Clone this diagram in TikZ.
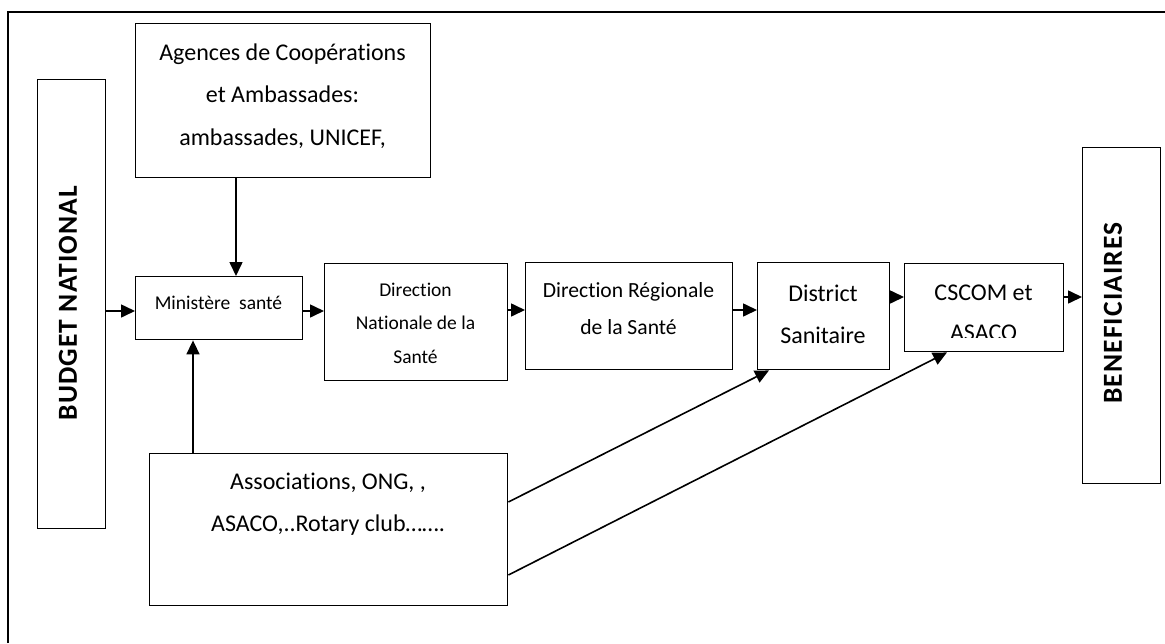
\documentclass[tikz,border=0pt]{standalone}
\usepackage{fontspec}
\setmainfont{Carlito}[Ligatures=NoCommon]
\newfontfamily\spacedbold{Carlito}[Ligatures=NoCommon, LetterSpace=4, UprightFont=*-Bold]
\usetikzlibrary{arrows.meta,calc}
\begin{document}
\begin{tikzpicture}[x=1pt,y=-1pt,
  box/.style={draw, line width=1.4pt, inner sep=0pt, anchor=north west},
  txt/.style={inner sep=0pt, align=center},
  conn/.style={line width=1.6pt, -{Triangle[length=14pt,width=13pt]}},
  vtxt/.style={inner sep=0pt, rotate=90, font=\spacedbold\fontsize{27.5}{30}\selectfont}]
\useasboundingbox (0,0) rectangle (1165,643);
% frame
\draw[line width=2pt] (8,643) -- (8,12) -- (1165,12);
% boxes
\node[box, minimum width=68, minimum height=449] (budget) at (37,79) {};
\node[box, minimum width=295, minimum height=154] (agences) at (135,23) {};
\node[box, minimum width=167, minimum height=63] (min) at (135,276) {};
\node[box, minimum width=183, minimum height=117] (dirnat) at (324,263) {};
\node[box, minimum width=207, minimum height=107] (dirreg) at (525,262) {};
\node[box, minimum width=132, minimum height=107] (district) at (757,262) {};
\node[box, minimum width=159, minimum height=88] (cscom) at (904,263) {};
\node[box, minimum width=78, minimum height=336] (benef) at (1082,147) {};
\node[box, minimum width=358, minimum height=152] (assoc) at (149,453) {};
% texts
\node[vtxt] (budgetT) at (68,303) {BUDGET NATIONAL};
\node[vtxt] (benefT) at (1113,313) {BENEFICIAIRES};
\node[txt, font=\fontsize{24}{42.5}\selectfont] (agencesT) at (282.5,96) {Agences de Coopérations\\et Ambassades:\\ambassades, UNICEF,};
\node[txt, font=\fontsize{19.5}{24}\selectfont] (minT) at (218.5,303) {Ministère\ \ santé};
\node[txt, font=\fontsize{19.5}{33.5}\selectfont] (dirnatT) at (415.5,323) {Direction\\Nationale de la\\Santé};
\node[txt, font=\fontsize{21.6}{37}\selectfont] (dirregT) at (628.5,309) {Direction Régionale\\de la Santé};
\node[txt, font=\fontsize{24}{42}\selectfont] (districtT) at (823,314) {District\\Sanitaire};
\begin{scope}
  \clip (cscom.north west) rectangle ($(cscom.east)+(0,30)$);
  \node[txt, font=\fontsize{24}{40}\selectfont] (cscomT) at (983.5,313) {CSCOM et\\ASACO};
\end{scope}
\node[txt, font=\fontsize{24}{42}\selectfont] (assocT) at (328,504) {Associations, ONG, ,\\ASACO,..Rotary club…….};
% level coordinates
\coordinate (xa) at (236,0);
\coordinate (xb) at (193,0);
\coordinate (y311) at (0,311);
\coordinate (y310) at (0,310);
\coordinate (y297) at (0,297);
\coordinate (y502) at (0,502);
\coordinate (y575) at (0,575);
% connectors
\draw[conn] (xa |- agences.south) -- (xa |- min.north);
\draw[conn] (xb |- assoc.north) -- (xb |- min.south);
\draw[conn] (budget.east |- y311) -- (min.west |- y311);
\draw[conn] (min.east |- y311) -- (dirnat.west |- y311);
\draw[conn] (dirnat.east |- y310) -- (dirreg.west |- y310);
\draw[conn] (dirreg.east |- y310) -- (district.west |- y310);
\draw[conn] (district.east |- y297) -- (cscom.west |- y297);
\draw[conn] (cscom.east |- y297) -- (benef.west |- y297);
\draw[conn] (assoc.east |- y502) -- ($(district.south west)+(12,0)$);
\draw[conn] (assoc.east |- y575) -- ($(cscom.south west)+(43,0)$);
\end{tikzpicture}
\end{document}
